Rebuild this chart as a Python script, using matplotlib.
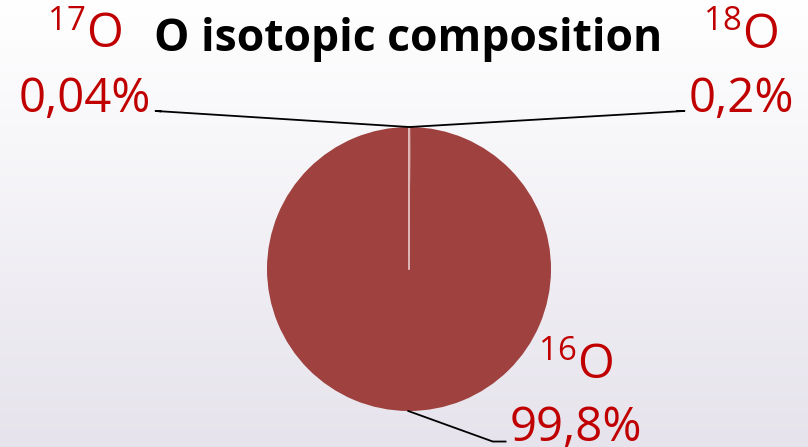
import matplotlib.pyplot as plt
import numpy as np

# isotope shares (%), clockwise from 12 o'clock
isotopes = ["18", "16", "17"]
shares = [0.20, 99.76, 0.04]
pct_labels = ["0,2%", "99,8%", "0,04%"]
title = "O isotopic composition"

# label anchors in pie units (radius = 1): x centre, baseline of name, baseline of %
label_pos = {"18": (2.338, 1.556, 1.106),
             "16": (1.176, -0.768, -1.211),
             "17": (-2.282, 1.556, 1.106)}
elbow = {"18": [(1.94, 1.113), (1.89, 1.113)],
         "16": [(0.59, -1.215), (0.68, -1.215)],
         "17": [(-1.785, 1.113), (-1.75, 1.11)]}

W, H = 808, 447
cx, cy, r = 409, 269, 142

plt.rcParams["mathtext.fontset"] = "custom"
plt.rcParams["mathtext.rm"] = "Open Sans"
plt.rcParams["font.family"] = ["Open Sans", "DejaVu Sans"]

fig = plt.figure(figsize=(W / 100, H / 100), dpi=100)

# background gradient
bg = fig.add_axes([0, 0, 1, 1])
top = np.array([1.0, 1.0, 1.0])
bot = np.array([0xE6, 0xE3, 0xEC]) / 255
t = np.linspace(0, 1, 256)[:, None]
grad = top * (1 - t) + bot * t
bg.imshow(grad[:, None, :], aspect="auto", extent=[0, 1, 0, 1])
bg.axis("off")

ax = fig.add_axes([(cx - r) / W, (H - cy - r) / H, 2 * r / W, 2 * r / H])
wedges, _ = ax.pie(shares, startangle=90, counterclock=False,
                   colors=["#9E413F"] * 3, wedgeprops=dict(linewidth=0))
ax.set_xlim(-1, 1)
ax.set_ylim(-1, 1)
ax.set_aspect("equal")
ax.axis("off")

# thin light separator at the start of the first wedge
a0 = np.deg2rad(wedges[0].theta2)
ax.plot([0, np.cos(a0)], [0, np.sin(a0)], color="#E9C9C9", lw=1.2)

for w, iso, lab in zip(wedges, isotopes, pct_labels):
    ang = np.deg2rad((w.theta1 + w.theta2) / 2)
    px, py = np.cos(ang), np.sin(ang)
    pts = [(px, py)] + elbow[iso]
    xs, ys = zip(*pts)
    ax.plot(xs, ys, color="black", lw=1.3, clip_on=False)
    lx, ly1, ly2 = label_pos[iso]
    ax.text(lx, ly1, "$^{" + iso + "}$O", ha="center", va="baseline",
            color="#C00000", fontsize=34)
    ax.text(lx, ly2, lab, ha="center", va="baseline",
            color="#C00000", fontsize=34)

fig.text(408 / W, 1 - 40 / H, title, ha="center", va="center",
         fontsize=32, fontweight="bold", color="black")

fig.savefig("out.png", dpi=100)
